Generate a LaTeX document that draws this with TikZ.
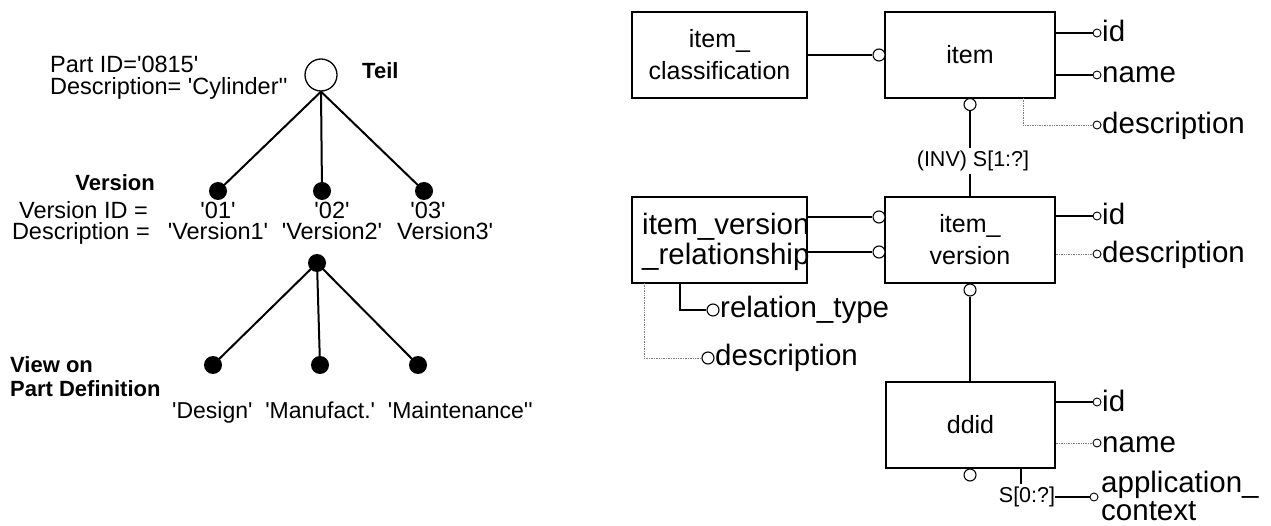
\documentclass[tikz,border=0pt]{standalone}
\usepackage{fontspec}
\setmainfont{Liberation Sans}[Ligatures=TeXOff]
\begin{document}
\begin{tikzpicture}[x=1pt,y=-1pt,
  txt/.style={inner sep=0pt,font=\fontsize{23.5}{26}\selectfont},
  bold/.style={inner sep=0pt,font=\fontsize{22}{26}\selectfont\bfseries},
  lbl/.style={inner xsep=0pt,inner ysep=3pt,font=\fontsize{21.5}{24}\selectfont},
  attrtxt/.style={inner sep=0pt,anchor=base west,font=\fontsize{29.5}{32}\selectfont},
  entity/.style={draw,line width=1.2pt,inner sep=0pt,align=center,
    font=\fontsize{25}{32}\selectfont},
  hollow/.style={draw,circle,line width=1.1pt,fill=white,inner sep=0pt,minimum size=12pt},
  tiny/.style={draw,circle,line width=0.9pt,fill=white,inner sep=0pt,minimum size=8pt},
  blob/.style={circle,fill=black,inner sep=0pt,minimum size=18pt},
  tree/.style={line width=2pt},
  conn/.style={line width=1.3pt},
  opt/.style={line width=0.7pt,gray,densely dotted}
]
\useasboundingbox (0,0) rectangle (1271,526);

% ---------- instance tree ----------
\node[draw,circle,line width=1.3pt,inner sep=0pt,minimum size=32pt] (teil) at (321,75) {};
\node[bold,anchor=base west] (teiltxt) at (362,79) {Teil};
\node[txt,anchor=base west] (pid) at (50,73) {Part ID='0815'};
\node[txt,anchor=base west] (pdesc) at (50,95) {Description= 'Cylinder''};

\node[blob] (v1) at (218,191) {};
\node[blob] (v2) at (322,191) {};
\node[blob] (v3) at (424,191) {};
\draw[tree] (teil.south) -- (v1.center);
\draw[tree] (teil.south) -- (v2.center);
\draw[tree] (teil.south) -- (v3.center);

\node[bold,anchor=base east] (vhead) at (155,191) {Version};
\node[txt,anchor=base east] (vid) at (148,219) {Version ID =};
\node[txt,anchor=base east] (vdesc) at (150,240) {Description =};
\node[txt,anchor=base] (id1) at (218,219) {'01'};
\node[txt,anchor=base] (id2) at (332,219) {'02'};
\node[txt,anchor=base] (id3) at (428,219) {'03'};
\node[txt,anchor=base] (ds1) at (218,240) {'Version1'};
\node[txt,anchor=base] (ds2) at (332,240) {'Version2'};
\node[txt,anchor=base west] (ds3) at (397,240) {Version3'};

\node[blob] (w0) at (317,263) {};
\node[blob] (w1) at (213,365) {};
\node[blob] (w2) at (320,365) {};
\node[blob] (w3) at (418,365) {};
\draw[tree] (w0.center) -- (w1.center);
\draw[tree] (w0.center) -- (w2.center);
\draw[tree] (w0.center) -- (w3.center);

\node[bold,anchor=base west] (view1) at (10,373) {View on};
\node[bold,anchor=base west] (view2) at (10,396) {Part Definition};
\node[txt,anchor=base west,font=\fontsize{23}{26}\selectfont] (views) at (172,418)
  {'Design'\ \ 'Manufact.'\ \ 'Maintenance''};

% ---------- entity diagram ----------
\node[entity,minimum width=175pt,minimum height=86pt] (cls) at (719.5,55) {item\_\\classification};
\node[entity,minimum width=170pt,minimum height=86pt] (item) at (970,55) {item};
\node[entity,minimum width=170pt,minimum height=86pt] (iv) at (970,240) {item\_\\version};
\node[entity,minimum width=175pt,minimum height=86pt] (rel) at (719.5,240) {};
\node[attrtxt] (reltxt1) at (642,235) {item\_version};
\node[attrtxt] (reltxt2) at (642,265) {\_relationship};
\node[entity,minimum width=169pt,minimum height=86pt] (ddid) at (970.5,425) {ddid};

% relations between entities
\node[hollow] (c1) at (879,55) {};
\draw[conn] (cls.east |- c1) -- (c1.west);
\node[hollow] (c2) at (970,104.5) {};
\node[lbl] (inv) at (973,161) {(INV) S[1:?]};
\draw[conn] (c2.south) -- (c2.south |- inv.north);
\draw[conn] (c2 |- inv.south) -- (c2 |- iv.north);
\node[hollow] (c3) at (879,217) {};
\node[hollow] (c4) at (879,252) {};
\draw[conn] (rel.east |- c3) -- (c3.west);
\draw[conn] (rel.east |- c4) -- (c4.west);
\node[hollow] (c5) at (970,290) {};
\draw[conn] (c5.south) -- (c5 |- ddid.north);
\node[hollow] (c6) at (970,475) {};

% attributes of item_version_relationship
\node[hollow] (rt) at (713,310) {};
\node[attrtxt] (rttxt) at (720,318) {relation\_type};
\coordinate (rtroot) at (680,283);
\draw[conn] (rtroot) |- (rt.west);
\node[hollow] (rd) at (708,358) {};
\node[attrtxt] (rdtxt) at (715,366) {description};
\coordinate (rdroot) at (644,283);
\draw[opt] (rdroot) |- (rd.west);

% attributes of item
\node[tiny] (a1) at (1097,33) {};
\node[attrtxt] (a1t) at (1102,42) {id};
\draw[conn] (item.east |- a1) -- (a1.west);
\node[tiny] (a2) at (1097,75) {};
\node[attrtxt] (a2t) at (1102,83) {name};
\draw[conn] (item.east |- a2) -- (a2.west);
\node[tiny] (a3) at (1097,125) {};
\node[attrtxt] (a3t) at (1102,134) {description};
\coordinate (a3root) at (1023,98);
\draw[opt] (a3root) |- (a3.west);

% attributes of item_version
\node[tiny] (b1) at (1097,216) {};
\node[attrtxt] (b1t) at (1102,225) {id};
\draw[conn] (iv.east |- b1) -- (b1.west);
\node[tiny] (b2) at (1097,254) {};
\node[attrtxt] (b2t) at (1102,263) {description};
\draw[opt] (iv.east |- b2) -- (b2.west);

% attributes of ddid
\node[tiny] (d1) at (1097,402) {};
\node[attrtxt] (d1t) at (1102,411) {id};
\draw[conn] (ddid.east |- d1) -- (d1.west);
\node[tiny] (d2) at (1097,443) {};
\node[attrtxt] (d2t) at (1102,452) {name};
\draw[opt] (ddid.east |- d2) -- (d2.west);
\node[tiny] (d3) at (1094,497) {};
\node[attrtxt] (d3t) at (1101,492) {application\_};
\node[attrtxt] (d3u) at (1101,520) {context};
\node[lbl] (s0) at (1027,497) {S[0:?]};
\coordinate (s0root) at (1021,468);
\draw[conn] (s0root) -- (s0root |- s0.north);
\draw[conn] (s0.east) -- (d3.west);
\end{tikzpicture}
\end{document}
